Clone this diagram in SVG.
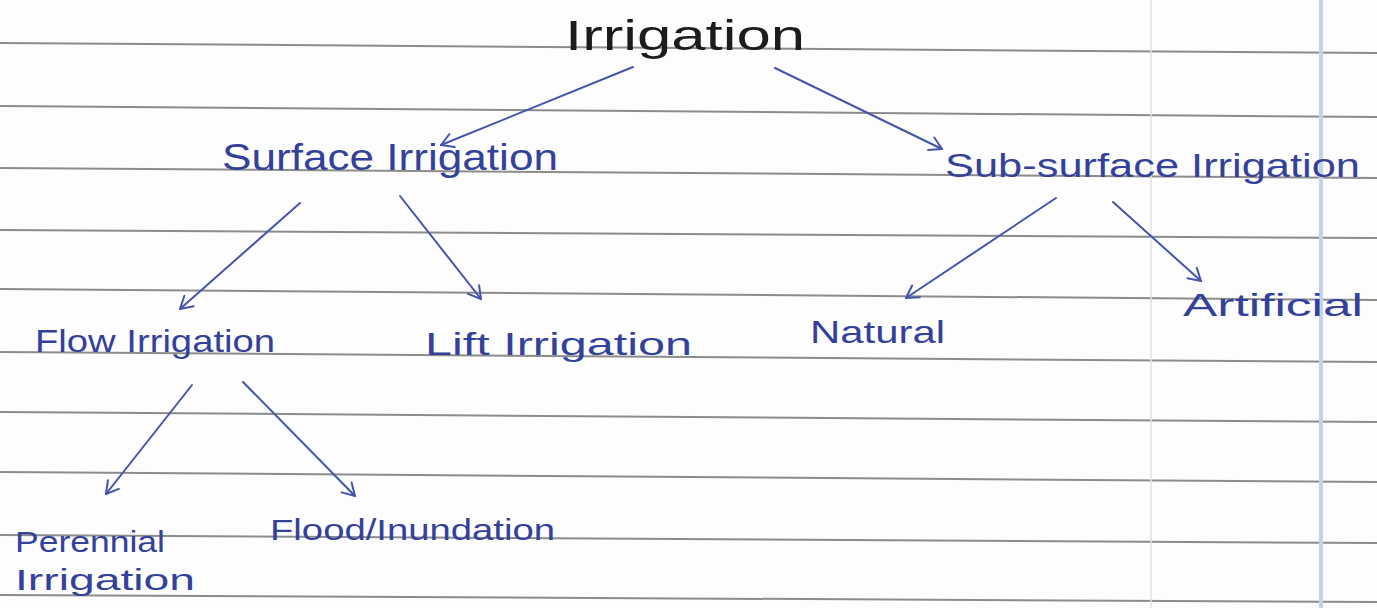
<svg xmlns="http://www.w3.org/2000/svg" width="1377" height="608" viewBox="0 0 1377 608">
  <style>
    .rule { stroke: #8c8c8c; stroke-width: 2; fill: none; }
    .ink { font-family: "Liberation Sans", "DejaVu Sans", sans-serif; fill: #34419a; }
    .title { font-family: "Liberation Sans", "DejaVu Sans", sans-serif; fill: #1c1c1c; }
    .edge { stroke: #4455ab; stroke-width: 2; fill: none; stroke-linecap: round; }
  </style>
  <defs>
    <marker id="head" markerUnits="userSpaceOnUse" markerWidth="24" markerHeight="24" refX="0" refY="0" viewBox="-14 -12 16 24" orient="auto" overflow="visible">
      <path d="M -12 -7 L 0 0 L -12 7" stroke="#4455ab" stroke-width="2" fill="none" stroke-linecap="round" stroke-linejoin="round"/>
    </marker>
  </defs>

  <!-- notebook paper -->
  <rect x="0" y="0" width="1377" height="608" fill="#fdfdfd"/>
  <g id="paper-rules">
    <line class="rule" x1="0" y1="43" x2="1377" y2="53"/>
    <line class="rule" x1="0" y1="106" x2="1377" y2="117"/>
    <line class="rule" x1="0" y1="168" x2="1377" y2="178"/>
    <line class="rule" x1="0" y1="230" x2="1377" y2="238"/>
    <line class="rule" x1="0" y1="289" x2="1377" y2="300"/>
    <line class="rule" x1="0" y1="352" x2="1377" y2="362"/>
    <line class="rule" x1="0" y1="412" x2="1377" y2="422"/>
    <line class="rule" x1="0" y1="472" x2="1377" y2="482"/>
    <line class="rule" x1="0" y1="535" x2="1377" y2="543"/>
    <line class="rule" x1="0" y1="595" x2="1377" y2="602"/>
    <line x1="1151" y1="0" x2="1151" y2="608" stroke="#e2e2e2" stroke-width="1.5"/>
    <line x1="1321" y1="0" x2="1321" y2="608" stroke="#c4d2ee" stroke-width="4"/>
  </g>

  <!-- connectors -->
  <g id="connectors">
    <line class="edge" x1="633" y1="67" x2="441" y2="145" marker-end="url(#head)"/>
    <line class="edge" x1="775" y1="68" x2="942" y2="149" marker-end="url(#head)"/>
    <line class="edge" x1="300" y1="203" x2="180" y2="309" marker-end="url(#head)"/>
    <line class="edge" x1="400" y1="196" x2="481" y2="299" marker-end="url(#head)"/>
    <line class="edge" x1="1056" y1="198" x2="906" y2="298" marker-end="url(#head)"/>
    <line class="edge" x1="1113" y1="202" x2="1201" y2="281" marker-end="url(#head)"/>
    <line class="edge" x1="192" y1="385" x2="106" y2="494" marker-end="url(#head)"/>
    <line class="edge" x1="243" y1="382" x2="355" y2="496" marker-end="url(#head)"/>
  </g>

  <!-- nodes -->
  <g id="irrigation">
    <text class="title" x="565" y="50" font-size="42" textLength="240" lengthAdjust="spacingAndGlyphs">Irrigation</text>
  </g>
  <g id="surface-irrigation">
    <text class="ink" x="222" y="170" font-size="36" textLength="336" lengthAdjust="spacingAndGlyphs">Surface Irrigation</text>
  </g>
  <g id="sub-surface-irrigation">
    <text class="ink" x="945" y="177" font-size="34" textLength="415" lengthAdjust="spacingAndGlyphs">Sub-surface Irrigation</text>
  </g>
  <g id="flow-irrigation">
    <text class="ink" x="35" y="352" font-size="32" textLength="240" lengthAdjust="spacingAndGlyphs">Flow Irrigation</text>
  </g>
  <g id="lift-irrigation">
    <text class="ink" x="425" y="355" font-size="32" textLength="267" lengthAdjust="spacingAndGlyphs">Lift Irrigation</text>
  </g>
  <g id="natural">
    <text class="ink" x="810" y="343" font-size="32" textLength="135" lengthAdjust="spacingAndGlyphs">Natural</text>
  </g>
  <g id="artificial">
    <text class="ink" x="1183" y="316" font-size="32" textLength="180" lengthAdjust="spacingAndGlyphs">Artificial</text>
  </g>
  <g id="perennial-irrigation">
    <text class="ink" x="15" y="552" font-size="30" textLength="150" lengthAdjust="spacingAndGlyphs">Perennial</text>
    <text class="ink" x="15" y="590" font-size="30" textLength="180" lengthAdjust="spacingAndGlyphs">Irrigation</text>
  </g>
  <g id="flood-inundation">
    <text class="ink" x="270" y="540" font-size="30" textLength="285" lengthAdjust="spacingAndGlyphs">Flood/Inundation</text>
  </g>
</svg>
